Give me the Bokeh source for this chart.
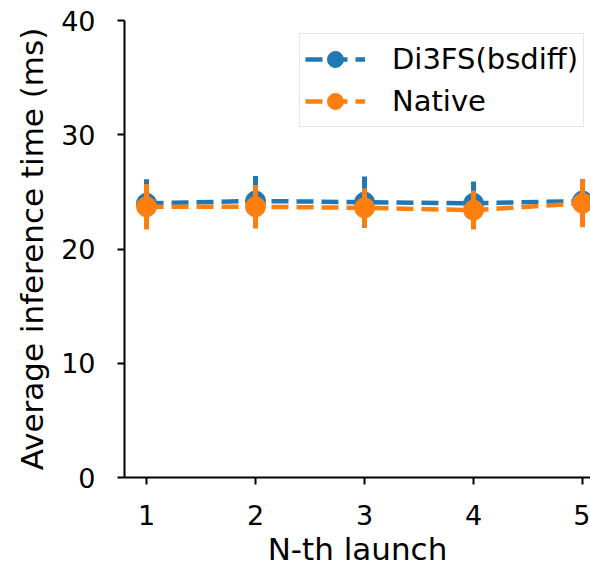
from bokeh.plotting import figure
from bokeh.models import Range1d, FixedTicker, Legend, LegendItem, ColumnDataSource
from bokeh.embed import file_html
from bokeh.resources import INLINE

# ---- data ----
launch = [1, 2, 3, 4, 5]
di3fs_mean = [24.0, 24.2, 24.1, 24.0, 24.2]
di3fs_err = [2.1, 2.2, 2.25, 1.9, 1.9]
native_mean = [23.7, 23.7, 23.6, 23.4, 24.0]
native_err = [2.0, 1.9, 1.7, 1.7, 2.1]
y_ticks = [0, 10, 20, 30, 40]
series_names = ["Di3FS(bsdiff)", "Native"]
colors = ["#1f77b4", "#ff7f0e"]

FONT = "DejaVu Sans"

p = figure(width=590, height=569, output_backend="svg", toolbar_location=None,
           x_range=Range1d(0.798, 5.073), y_range=Range1d(0, 40),
           min_border_left=124, min_border_right=0, min_border_top=20,
           min_border_bottom=92)
p.outline_line_color = None
p.grid.visible = False
p.background_fill_color = "white"
p.border_fill_color = "white"

p.xaxis.ticker = FixedTicker(ticks=launch)
p.yaxis.ticker = FixedTicker(ticks=y_ticks)
for ax in (p.xaxis, p.yaxis):
    ax.axis_line_width = 2
    ax.axis_line_color = "black"
    ax.major_tick_line_width = 2
    ax.major_tick_line_color = "black"
    ax.major_tick_out = 7
    ax.major_tick_in = 0
    ax.minor_tick_out = 0
    ax.minor_tick_in = 0
    ax.major_label_text_font = FONT
    ax.major_label_text_font_size = "27px"
    ax.major_label_text_color = "black"
    ax.axis_label_text_font = FONT
    ax.axis_label_text_font_size = "31px"
    ax.axis_label_text_font_style = "normal"
    ax.axis_label_text_color = "black"
p.xaxis.axis_label = "N-th launch"
p.yaxis.axis_label = "Average inference time (ms)"
p.xaxis.major_label_standoff = 20
p.xaxis.axis_label_standoff = 3
p.yaxis.major_label_standoff = 22
p.yaxis.axis_label_standoff = 8

items = []
for name, col, mean, err in [(series_names[0], colors[0], di3fs_mean, di3fs_err),
                             (series_names[1], colors[1], native_mean, native_err)]:
    src = ColumnDataSource(dict(
        x=launch, y=mean,
        lo=[m - e for m, e in zip(mean, err)],
        hi=[m + e for m, e in zip(mean, err)],
    ))
    ln = p.line("x", "y", source=src, line_color=col, line_width=4.5, line_dash="17 8")
    p.segment(x0="x", y0="lo", x1="x", y1="hi", source=src, line_color=col, line_width=5)
    sc = p.scatter("x", "y", source=src, marker="circle", size=20,
                   fill_color=col, line_color=col, line_width=1)
    items.append(LegendItem(label=name, renderers=[ln, sc]))

legend = Legend(items=items, location=(175, 350), margin=0,
                padding=5, spacing=2, glyph_width=60, glyph_height=40,
                label_standoff=27, label_height=34,
                label_text_font=FONT, label_text_font_size="29px",
                label_text_color="black",
                border_line_color="#cccccc", border_line_width=1,
                background_fill_color="white", background_fill_alpha=0.8)
p.add_layout(legend)

open("out.html", "w").write(file_html(p, INLINE))
